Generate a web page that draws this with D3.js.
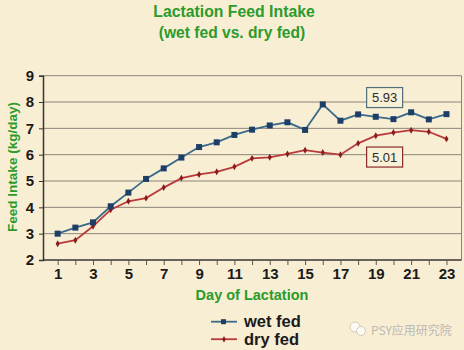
<!DOCTYPE html>
<html><head><meta charset="utf-8">
<script src="https://cdn.jsdelivr.net/npm/d3@7"></script>
<style>
html,body{margin:0;padding:0;background:#f8eed4;}
svg{display:block;}
</style></head>
<body>
<script>
const days = d3.range(1, 24);
const wetFed = [3.00,3.23,3.43,4.04,4.56,5.08,5.48,5.89,6.29,6.47,6.75,6.95,7.11,7.23,6.94,7.91,7.29,7.53,7.44,7.35,7.61,7.34,7.54];
const dryFed = [2.62,2.75,3.28,3.91,4.23,4.35,4.75,5.11,5.25,5.35,5.54,5.86,5.90,6.03,6.17,6.08,6.00,6.43,6.72,6.84,6.93,6.87,6.60];
const yTicks = [2,3,4,5,6,7,8,9];
const xTickLabels = [1,3,5,7,9,11,13,15,17,19,21,23];
const annotations = [{label:"5.93", series:"wet"}, {label:"5.01", series:"dry"}];

(function(){
const W = 464, H = 350;
const svg = d3.select("body").append("svg").attr("width", W).attr("height", H);
svg.append("rect").attr("width", W).attr("height", H).attr("fill", "#f8eed4");

const pLeft = 43, pRight = 461.5, pTop = 75.7, pBottom = 260;
const x = d3.scaleLinear().domain([0.17, 23.85]).range([pLeft, pRight]);
const y = d3.scaleLinear().domain([2, 9]).range([pBottom, pTop]);

const green = "#2b9b2b";
const font = "Liberation Sans, Arial, sans-serif";
const narrow = "Liberation Sans Narrow, Arial Narrow, sans-serif";

// title
svg.append("text").attr("x", 234).attr("y", 17).attr("text-anchor", "middle")
  .attr("font-family", font).attr("font-weight", "bold").attr("font-size", 15.8)
  .attr("fill", green).text("Lactation Feed Intake");
svg.append("text").attr("x", 232).attr("y", 38).attr("text-anchor", "middle")
  .attr("font-family", font).attr("font-weight", "bold").attr("font-size", 15.6)
  .attr("fill", green).text("(wet fed vs. dry fed)");

// grid
svg.append("g").selectAll("line").data(yTicks.slice(1)).join("line")
  .attr("x1", pLeft).attr("x2", pRight).attr("y1", d => y(d)).attr("y2", d => y(d))
  .attr("stroke", "#8c8478").attr("stroke-width", 1);
svg.append("line").attr("x1", pRight).attr("x2", pRight).attr("y1", pTop).attr("y2", pBottom)
  .attr("stroke", "#8c8478").attr("stroke-width", 1);

// y axis
const yAxis = d3.axisLeft(y).tickValues(yTicks).tickSize(4).tickPadding(5).tickFormat(d3.format("d"));
const gy = svg.append("g").attr("transform", `translate(${pLeft},0)`).call(yAxis);
gy.select(".domain").attr("stroke", "#3a3530").attr("stroke-width", 1.5);
gy.selectAll(".tick line").attr("stroke", "#3a3530");
gy.selectAll("text").attr("font-family", narrow).attr("font-weight", "bold").attr("font-size", 15).attr("fill", "#1a1a1a");

// x axis
const xAxis = d3.axisBottom(x).tickValues(days).tickSize(5).tickPadding(3)
  .tickFormat(d => xTickLabels.includes(d) ? d : "");
const gx = svg.append("g").attr("transform", `translate(0,${pBottom})`).call(xAxis);
gx.select(".domain").attr("stroke", "#3a3530").attr("stroke-width", 1.5).attr("d", `M${pLeft},0H${pRight}`);
gx.selectAll(".tick line").attr("stroke", "#5a5550");
gx.selectAll("text").attr("font-family", narrow).attr("font-weight", "bold").attr("font-size", 15).attr("fill", "#1a1a1a");

// axis titles
svg.append("text").attr("transform", "translate(16.5,167) rotate(-90)").attr("text-anchor", "middle")
  .attr("font-family", font).attr("font-weight", "bold").attr("font-size", 13.5)
  .attr("fill", green).text("Feed Intake (kg/day)");
svg.append("text").attr("x", 252).attr("y", 300).attr("text-anchor", "middle")
  .attr("font-family", font).attr("font-weight", "bold").attr("font-size", 14.5)
  .attr("fill", green).text("Day of Lactation");

const blueLine = "#3a6a8a", blueMark = "#1d3e66";
const redLine = "#b83a3a", redMark = "#8a1c1c";
const line = d3.line().x((d, i) => x(days[i])).y(d => y(d));

// dry
svg.append("path").datum(dryFed).attr("d", line).attr("fill", "none")
  .attr("stroke", redLine).attr("stroke-width", 1.8);
svg.append("g").selectAll("path").data(dryFed).join("path")
  .attr("d", d3.symbol(d3.symbolDiamond, 14))
  .attr("transform", (d, i) => `translate(${x(days[i])},${y(d)})`).attr("fill", redMark);

// wet
svg.append("path").datum(wetFed).attr("d", line).attr("fill", "none")
  .attr("stroke", blueLine).attr("stroke-width", 1.8);
svg.append("g").selectAll("rect").data(wetFed).join("rect")
  .attr("x", (d, i) => x(days[i]) - 3).attr("y", d => y(d) - 3)
  .attr("width", 6).attr("height", 6).attr("fill", blueMark);

// annotation boxes
const boxX = x(19.5);
const boxDefs = [
  {a: annotations[0], cy: y(8.17), stroke: "#4f6f7a"},
  {a: annotations[1], cy: y(5.91), stroke: "#8a2a2a"}
];
boxDefs.forEach(b => {
  svg.append("rect").attr("x", boxX - 18).attr("y", b.cy - 10).attr("width", 36).attr("height", 20)
    .attr("fill", "#f9f0d8").attr("stroke", b.stroke).attr("stroke-width", 1.2);
  svg.append("text").attr("x", boxX).attr("y", b.cy + 4.5).attr("text-anchor", "middle")
    .attr("font-family", narrow).attr("font-size", 13).attr("fill", "#2a2a2a").text(b.a.label);
});

// legend
const leg = [{name:"wet fed", c: blueLine, m: blueMark, sq:true}, {name:"dry fed", c: redLine, m: redMark, sq:false}];
leg.forEach((l, i) => {
  const ly = 321.7 + i * 17.5;
  svg.append("line").attr("x1", 211).attr("x2", 237).attr("y1", ly).attr("y2", ly)
    .attr("stroke", l.c).attr("stroke-width", 1.8);
  if (l.sq) svg.append("rect").attr("x", 221).attr("y", ly - 2.5).attr("width", 5).attr("height", 5).attr("fill", l.m);
  else svg.append("path").attr("d", d3.symbol(d3.symbolDiamond, 12)).attr("transform", `translate(224,${ly})`).attr("fill", l.m);
  svg.append("text").attr("x", 244).attr("y", ly + 5.5).attr("font-family", narrow).attr("font-weight", "bold")
    .attr("font-size", 16.5).attr("fill", "#1a1a1a").text(l.name);
});

// watermark
const wm = svg.append("g").attr("opacity", 0.75);
wm.append("circle").attr("cx", 355).attr("cy", 327).attr("r", 5).attr("fill", "#fff").attr("stroke", "#c8c0b0");
wm.append("circle").attr("cx", 361).attr("cy", 331).attr("r", 4.5).attr("fill", "#fff").attr("stroke", "#c8c0b0");
wm.append("text").attr("x", 371).attr("y", 335).attr("font-family", "Noto Sans CJK SC, sans-serif")
  .attr("font-size", 12).attr("fill", "#a8a8a8").text("PSY应用研究院");
})();
</script>
</body></html>
